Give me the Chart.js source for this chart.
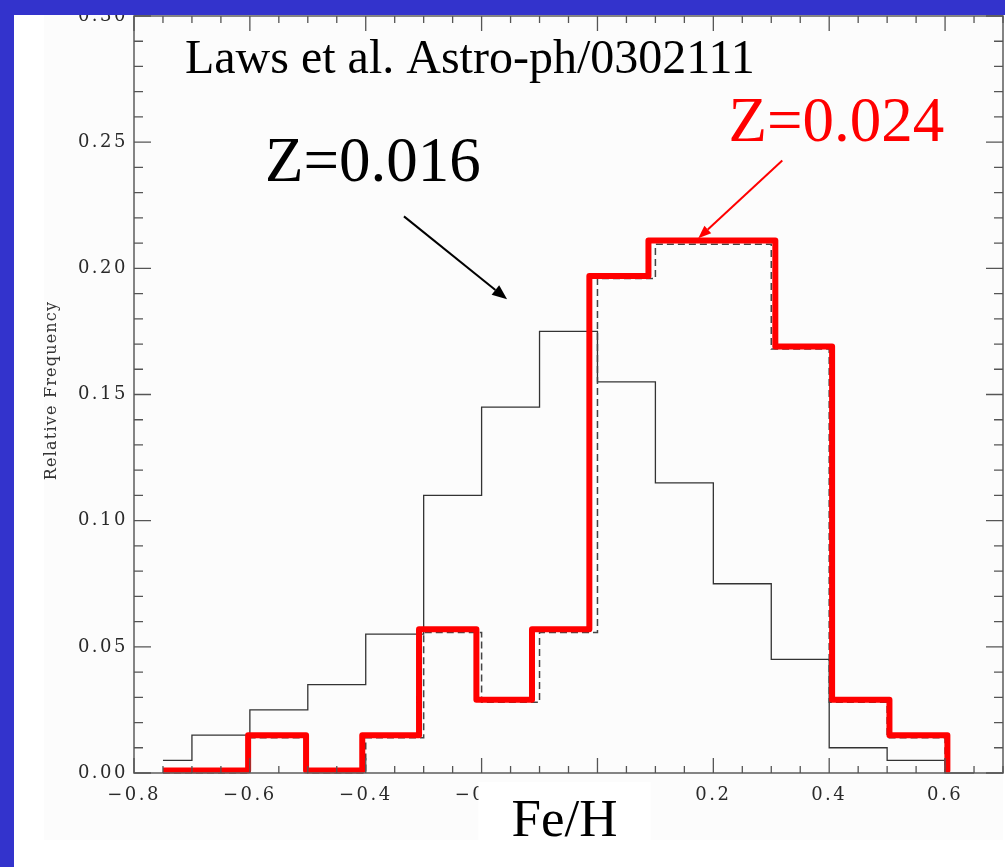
<!DOCTYPE html>
<html>
<head>
<meta charset="utf-8">
<script src="https://cdn.jsdelivr.net/npm/chart.js@4.4.0/dist/chart.umd.min.js"></script>
<style>
  html, body { margin: 0; padding: 0; background: #3333cc; }
  #sheet { position: absolute; left: 14px; top: 15px; width: 991px; height: 852px; background: #fff; overflow: hidden; }
  #photo { position: absolute; left: 30px; top: 0; width: 959px; height: 825px; background: #fcfcfc; }
  #chart { position: absolute; left: 0; top: 0; }
</style>
</head>
<body>
<div id="sheet"><div id="photo"></div><canvas id="chart" width="991" height="852"></canvas></div>
<script>
// Fe/H bins and relative frequencies
const blackEdges = [-0.75, -0.7, -0.6, -0.5, -0.4, -0.3, -0.2, -0.1, 0.0, 0.1, 0.2, 0.3, 0.4, 0.5, 0.6, 0.65];
const blackVals  = [0.005, 0.015, 0.025, 0.035, 0.055, 0.11, 0.145, 0.175, 0.155, 0.115, 0.075, 0.045, 0.01, 0.005, 0.0];

const dashEdges = [-0.75, -0.6, -0.5, -0.4, -0.3, -0.2, -0.1, 0.0, 0.1, 0.3, 0.4, 0.5, 0.6];
const dashVals  = [0.0, 0.014, 0.0, 0.014, 0.0557, 0.028, 0.0557, 0.196, 0.2095, 0.168, 0.028, 0.014];

// red one is drawn by hand over the dashed one, so its edges wander a bit
const redEdges = [-0.75, -0.603, -0.503, -0.406, -0.308, -0.209, -0.113, -0.014, 0.088, 0.307, 0.405, 0.504, 0.604];
const redVals  = [0.001, 0.015, 0.001, 0.015, 0.057, 0.029, 0.057, 0.197, 0.211, 0.169, 0.029, 0.015];

const xTicksMajor = 0.2;
const yTicksMajor = 0.05;

// text and arrows in data units
const notes = [
    { text: 'Laws et al. Astro-ph/0302111', x: -0.712, y: 0.2775, size: 48, color: '#000' },
    { text: 'Z=0.016', x: -0.574, y: 0.2348, size: 63, color: '#000' },
    { text: 'Z=0.024', x: 0.226, y: 0.2506, size: 63, color: '#ff0000' }
];
const arrows = [
    { from: [-0.334, 0.2206], to: [-0.156, 0.1877], color: '#000', head: 15, half: 6 },
    { from: [0.319, 0.2427], to: [0.174, 0.2119], color: '#ff0000', head: 13, half: 5 }
];

function steps(edges, vals, dropTo) {
    const pts = [];
    vals.forEach(function(v, i) {
        pts.push({ x: edges[i], y: v }, { x: edges[i + 1], y: v });
    });
    if (dropTo !== undefined) pts.push({ x: edges[edges.length - 1], y: dropTo });
    return pts;
}

function isMultiple(v, step) {
    const r = v / step;
    return Math.abs(r - Math.round(r)) < 1e-6;
}

const decor = {
    id: 'decor',
    beforeDraw(chart) {
        chart.ctx.letterSpacing = '2.5px'; // wide IDL style tick labels
    },
    beforeDatasetsDraw(chart) {
        chart.ctx.letterSpacing = '0px';
    },
    afterDraw(chart) {
        const ctx = chart.ctx;
        const a = chart.chartArea;
        const xs = chart.scales.x, ys = chart.scales.y;
        ctx.save();
        ctx.letterSpacing = '0px';

        // frame + inward ticks on all four sides
        ctx.strokeStyle = '#666';
        ctx.lineWidth = 1.6;
        ctx.strokeRect(a.left, a.top, a.right - a.left, a.bottom - a.top);
        ctx.lineWidth = 1.3;
        ctx.strokeStyle = '#555';
        ctx.beginPath();
        xs.ticks.forEach(function(t) {
            const px = xs.getPixelForValue(t.value);
            const len = isMultiple(t.value, xTicksMajor) ? 15 : 7;
            ctx.moveTo(px, a.bottom); ctx.lineTo(px, a.bottom - len);
            ctx.moveTo(px, a.top); ctx.lineTo(px, a.top + len);
        });
        ys.ticks.forEach(function(t) {
            const py = ys.getPixelForValue(t.value);
            const len = isMultiple(t.value, yTicksMajor) ? 17 : 9;
            ctx.moveTo(a.left, py); ctx.lineTo(a.left + len, py);
            ctx.moveTo(a.right, py); ctx.lineTo(a.right - len, py);
        });
        ctx.stroke();

        // y title
        ctx.save();
        ctx.translate(38, (a.top + a.bottom) / 2 - 4);
        ctx.rotate(-Math.PI / 2);
        ctx.font = '16px "DejaVu Serif"';
        ctx.letterSpacing = '1.2px';
        ctx.fillStyle = '#333';
        ctx.textAlign = 'center';
        ctx.textBaseline = 'middle';
        ctx.fillText('Relative Frequency', 0, 0);
        ctx.restore();

        // x title sits on a white patch over two tick labels
        const cx = (a.left + a.right) / 2 - 4;
        ctx.fillStyle = '#fff';
        ctx.fillRect(cx - 86, a.bottom + 9, 172, 100);
        ctx.font = '53px "Liberation Serif"';
        ctx.fillStyle = '#000';
        ctx.textAlign = 'center';
        ctx.textBaseline = 'alphabetic';
        ctx.fillText('Fe/H', cx, a.bottom + 63);

        // annotations
        ctx.textAlign = 'left';
        notes.forEach(function(n) {
            ctx.font = n.size + 'px "Liberation Serif"';
            ctx.fillStyle = n.color;
            ctx.fillText(n.text, xs.getPixelForValue(n.x), ys.getPixelForValue(n.y));
        });
        arrows.forEach(function(ar) {
            const x1 = xs.getPixelForValue(ar.from[0]), y1 = ys.getPixelForValue(ar.from[1]);
            const x2 = xs.getPixelForValue(ar.to[0]), y2 = ys.getPixelForValue(ar.to[1]);
            const ang = Math.atan2(y2 - y1, x2 - x1);
            const bx = x2 - ar.head * Math.cos(ang), by = y2 - ar.head * Math.sin(ang);
            ctx.strokeStyle = ar.color;
            ctx.fillStyle = ar.color;
            ctx.lineWidth = 2;
            ctx.beginPath();
            ctx.moveTo(x1, y1); ctx.lineTo(bx, by);
            ctx.stroke();
            ctx.beginPath();
            ctx.moveTo(x2, y2);
            ctx.lineTo(bx + ar.half * Math.sin(ang), by - ar.half * Math.cos(ang));
            ctx.lineTo(bx - ar.half * Math.sin(ang), by + ar.half * Math.cos(ang));
            ctx.closePath();
            ctx.fill();
        });
        ctx.restore();
    }
};

const tickFont = { family: 'DejaVu Serif', size: 18 };

new Chart(document.getElementById('chart').getContext('2d'), {
    type: 'line',
    data: {
        datasets: [
            {
                label: 'Z=0.024',
                data: steps(redEdges, redVals, 0.001),
                borderColor: '#ff0000',
                borderWidth: 6,
                borderJoinStyle: 'round',
                pointRadius: 0,
                clip: 8
            },
            {
                label: 'Z=0.024 model',
                data: steps(dashEdges, dashVals, 0),
                borderColor: '#444',
                borderWidth: 1.5,
                borderDash: [7, 4],
                pointRadius: 0,
                clip: 8
            },
            {
                label: 'Z=0.016',
                data: steps(blackEdges, blackVals),
                borderColor: '#333',
                borderWidth: 1.3,
                pointRadius: 0,
                clip: 8
            }
        ]
    },
    options: {
        responsive: false,
        animation: false,
        layout: { padding: { top: 1, right: 2, left: 0, bottom: 0 } },
        plugins: { legend: { display: false }, tooltip: { enabled: false } },
        scales: {
            x: {
                type: 'linear',
                min: -0.8,
                max: 0.7,
                grid: { display: false },
                border: { display: false },
                afterFit: function(s) { s.height = 94; s.paddingLeft = 0; s.paddingRight = 0; },
                ticks: {
                    stepSize: 0.05,
                    autoSkip: false,
                    maxRotation: 0,
                    padding: 4,
                    color: '#2a2a2a',
                    font: tickFont,
                    callback: function(v) {
                        if (!isMultiple(v, xTicksMajor)) return '';
                        const s = Math.abs(v).toFixed(1);
                        return v < -1e-9 ? '\u2212' + s : s;
                    }
                }
            },
            y: {
                min: 0,
                max: 0.30,
                grid: { display: false },
                border: { display: false },
                afterFit: function(s) { s.width = 120; s.paddingTop = 0; s.paddingBottom = 0; },
                ticks: {
                    stepSize: 0.01,
                    autoSkip: false,
                    padding: -2,
                    color: '#2a2a2a',
                    font: tickFont,
                    callback: function(v) {
                        return isMultiple(v, yTicksMajor) ? v.toFixed(2) : '';
                    }
                }
            }
        }
    },
    plugins: [decor]
});
</script>
</body>
</html>
